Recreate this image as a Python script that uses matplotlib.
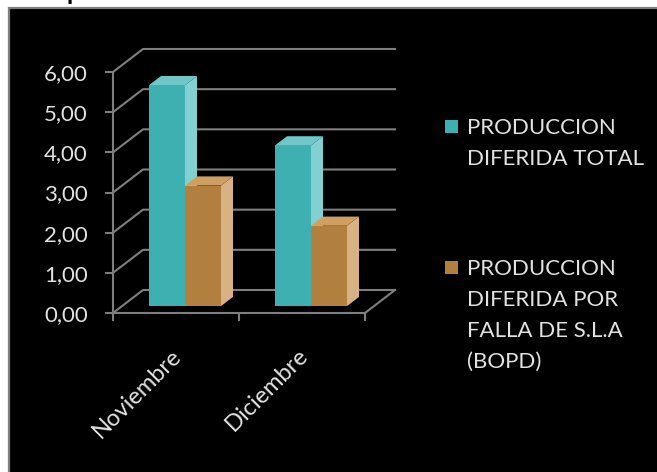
import matplotlib.pyplot as plt
from matplotlib.patches import Polygon, Rectangle
from matplotlib.ticker import FuncFormatter

meses = ['Noviembre', 'Diciembre']
diferida_total = [5.5, 4.0]
diferida_sla = [3.0, 2.0]
series = ['PRODUCCION\nDIFERIDA TOTAL',
          'PRODUCCION\nDIFERIDA POR\nFALLA DE S.L.A\n(BOPD)']
y_ticks = [0, 1, 2, 3, 4, 5, 6]

# colores: frente, lateral, tapa
teal = ('#3fb0b1', '#82d0d1', '#6ec8c9')
marron = ('#b1803f', '#d8b283', '#cf9f62')
gris = '#7f7f7f'
texto = '#e2e2e2'

plt.rcParams['font.family'] = ['Lato', 'DejaVu Sans']

W, H = 657, 472
fig = plt.figure(figsize=(W / 100, H / 100), dpi=100, facecolor='white')


def fx(px):
    return px / W


def fy(py):
    return 1 - py / H


# panel negro con borde gris
fig.patches.append(Rectangle((fx(9), -0.05), 1.1, fy(8) + 0.05,
                             transform=fig.transFigure, fc='black',
                             ec=gris, lw=1.6, zorder=-5))
# resto del titulo que queda cortado arriba
fig.text(fx(67), fy(0), 'p', fontsize=18, fontweight='bold', color='black',
         va='baseline')

ax = fig.add_axes([fx(113), fy(313), 252 / W, 241 / H])
ax.set_zorder(2)
ax.set_facecolor('none')
ax.set_xlim(0, 2)
ax.set_ylim(0, 6)

# profundidad del grafico 3D (en unidades de datos)
DX = 30 / 252 * 2
DY = 23 / 241 * 6
F0, F1 = 0.3, 0.7
ANCHO = 2 / 7

# pared del fondo y pared lateral
for v in y_ticks:
    ax.plot([0, DX, 2 + DX], [v, v + DY, v + DY], color=gris, lw=1.5,
            clip_on=False, zorder=1)
ax.plot([2, 2 + DX], [0, DY], color=gris, lw=1.5, clip_on=False, zorder=1)


def barra(x0, valor, colores):
    bx = x0 + F0 * DX
    by = F0 * DY
    x1 = bx + ANCHO
    top = by + valor
    ddx, ddy = (F1 - F0) * DX, (F1 - F0) * DY
    lado = Polygon([(x1, by), (x1, top), (x1 + ddx, top + ddy), (x1 + ddx, by + ddy)],
                   fc=colores[1], ec='none', zorder=3)
    tapa = Polygon([(bx, top), (x1, top), (x1 + ddx, top + ddy), (bx + ddx, top + ddy)],
                   fc=colores[2], ec='none', zorder=3)
    ax.add_patch(lado)
    ax.add_patch(tapa)
    ax.bar(bx, valor, width=ANCHO, bottom=by, align='edge', color=colores[0],
           zorder=3)


for i in range(len(meses)):
    x0 = i + (1 - 2 * ANCHO) / 2
    barra(x0, diferida_total[i], teal)
    barra(x0 + ANCHO, diferida_sla[i], marron)

for lado in ['top', 'right']:
    ax.spines[lado].set_visible(False)
for lado in ['left', 'bottom']:
    ax.spines[lado].set_color(gris)
    ax.spines[lado].set_linewidth(1.5)
    ax.spines[lado].set_zorder(2)

ax.set_yticks(y_ticks)
ax.yaxis.set_major_formatter(FuncFormatter(lambda v, p: f'{v:.2f}'.replace('.', ',')))
ax.tick_params(axis='y', length=6, width=1.5, color=gris, labelcolor=texto,
               labelsize=16, pad=12)

ax.set_xticks([0, 1, 2], labels=['', '', ''])
ax.set_xticks([i + 0.46 for i in range(len(meses))], labels=meses,
              minor=True, rotation=45, ha='right', rotation_mode='anchor')
ax.tick_params(axis='x', which='major', length=6, width=1.5, color=gris)
ax.tick_params(axis='x', which='minor', length=0, labelcolor=texto,
               labelsize=17, pad=23)

# leyenda
colores_ley = [teal[0], marron[0]]
base_ley = [134, 275]
for nombre, color, y0 in zip(series, colores_ley, base_ley):
    fig.patches.append(Rectangle((fx(445), fy(y0 - 1)), 13 / W, 13 / H,
                                 transform=fig.transFigure, fc=color, zorder=2))
    for k, linea in enumerate(nombre.split('\n')):
        fig.text(fx(467), fy(y0 + 31 * k), linea, color=texto, fontsize=16,
                 va='baseline', ha='left')

fig.savefig('out.png', dpi=100, facecolor='white')
